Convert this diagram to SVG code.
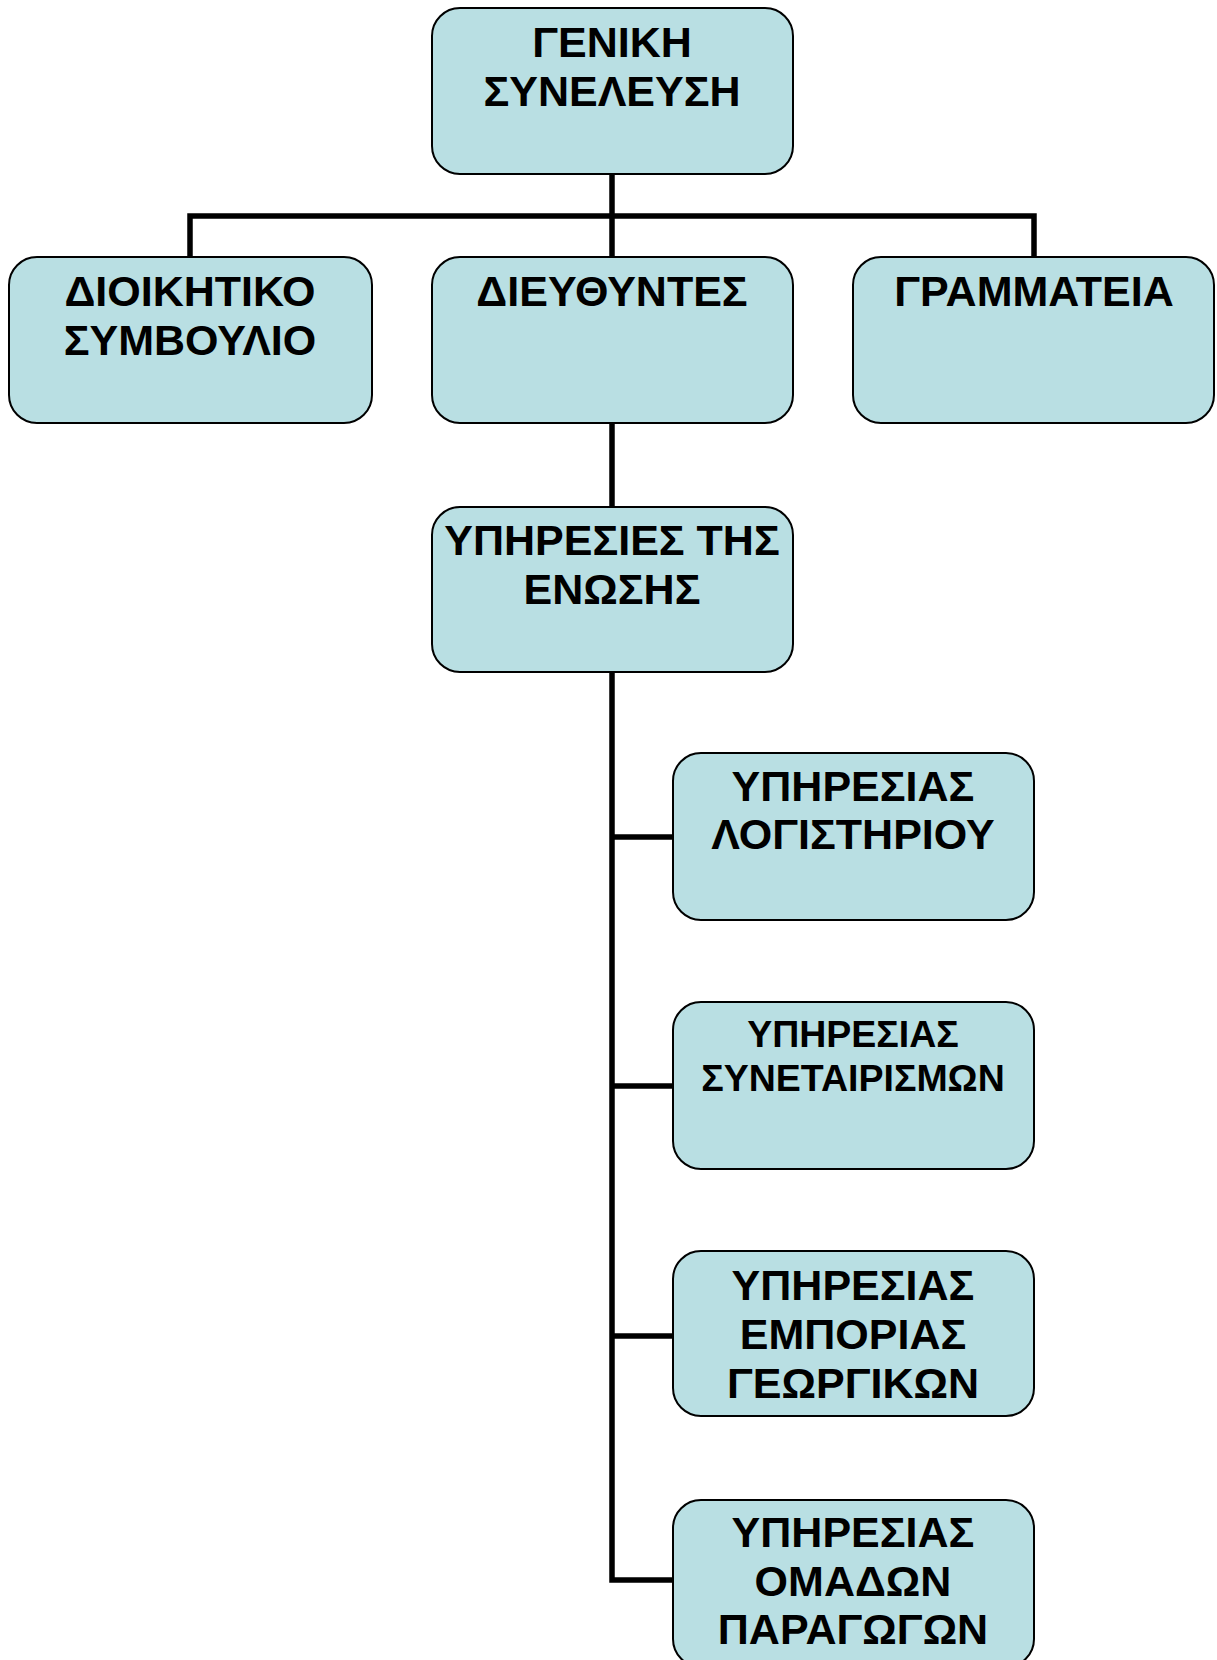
<svg xmlns="http://www.w3.org/2000/svg" width="1217" height="1660" viewBox="0 0 1217 1660">
<style>
.box{fill:#B9DFE3;stroke:#000;stroke-width:2}
.t{font-family:"Liberation Sans",Arial,sans-serif;font-weight:bold;font-size:43px;fill:#000;text-anchor:middle}
.s{font-size:37.5px}
.c{fill:none;stroke:#000;stroke-width:5.5;stroke-linejoin:miter;stroke-linecap:butt}
</style>
<rect width="1217" height="1660" fill="#fff"/>
<g id="connectors">
<line class="c" x1="612" y1="174" x2="612" y2="257"/>
<polyline class="c" points="190,257 190,216 1034,216 1034,257"/>
<line class="c" x1="612" y1="423" x2="612" y2="507"/>
<polyline class="c" points="612,672 612,1580 673,1580"/>
<line class="c" x1="612" y1="837" x2="673" y2="837"/>
<line class="c" x1="612" y1="1086" x2="673" y2="1086"/>
<line class="c" x1="612" y1="1336" x2="673" y2="1336"/>
</g>
<g id="n-geniki">
<rect class="box" x="432" y="8" width="361" height="166" rx="28"/>
<text class="t" x="612" y="57">ΓΕΝΙΚΗ</text>
<text class="t" x="612" y="106">ΣΥΝΕΛΕΥΣΗ</text>
</g>
<g id="n-dioikitiko">
<rect class="box" x="9" y="257" width="363" height="166" rx="28"/>
<text class="t" x="190" y="306">ΔΙΟΙΚΗΤΙΚΟ</text>
<text class="t" x="190" y="355">ΣΥΜΒΟΥΛΙΟ</text>
</g>
<g id="n-dieythyntes">
<rect class="box" x="432" y="257" width="361" height="166" rx="28"/>
<text class="t" x="612" y="306">ΔΙΕΥΘΥΝΤΕΣ</text>
</g>
<g id="n-grammateia">
<rect class="box" x="853" y="257" width="361" height="166" rx="28"/>
<text class="t" x="1034" y="306">ΓΡΑΜΜΑΤΕΙΑ</text>
</g>
<g id="n-ypiresies">
<rect class="box" x="432" y="507" width="361" height="165" rx="28"/>
<text class="t" x="612" y="555">ΥΠΗΡΕΣΙΕΣ ΤΗΣ</text>
<text class="t" x="612" y="604">ΕΝΩΣΗΣ</text>
</g>
<g id="n-logistiriou">
<rect class="box" x="673" y="753" width="361" height="167" rx="28"/>
<text class="t" x="853" y="801">ΥΠΗΡΕΣΙΑΣ</text>
<text class="t" x="853" y="849">ΛΟΓΙΣΤΗΡΙΟΥ</text>
</g>
<g id="n-synetairismon">
<rect class="box" x="673" y="1002" width="361" height="167" rx="28"/>
<text class="t s" x="853" y="1047">ΥΠΗΡΕΣΙΑΣ</text>
<text class="t s" x="853" y="1091">ΣΥΝΕΤΑΙΡΙΣΜΩΝ</text>
</g>
<g id="n-emporias">
<rect class="box" x="673" y="1251" width="361" height="165" rx="28"/>
<text class="t" x="853" y="1300">ΥΠΗΡΕΣΙΑΣ</text>
<text class="t" x="853" y="1349">ΕΜΠΟΡΙΑΣ</text>
<text class="t" x="853" y="1398">ΓΕΩΡΓΙΚΩΝ</text>
</g>
<g id="n-omadon">
<rect class="box" x="673" y="1500" width="361" height="167" rx="28"/>
<text class="t" x="853" y="1547">ΥΠΗΡΕΣΙΑΣ</text>
<text class="t" x="853" y="1596">ΟΜΑΔΩΝ</text>
<text class="t" x="853" y="1644">ΠΑΡΑΓΩΓΩΝ</text>
</g>
</svg>
